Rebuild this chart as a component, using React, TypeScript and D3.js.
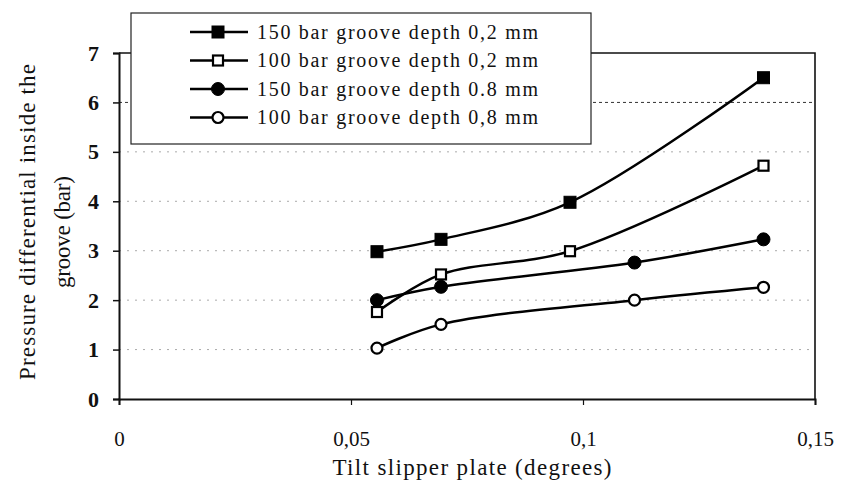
import React, { useRef, useEffect } from 'react';
import * as d3 from 'd3';

// tilt angle of slipper plate (degrees)
const tiltA = [0.0556, 0.0694, 0.0972, 0.1389];
const tiltB = [0.0556, 0.0694, 0.1111, 0.1389];

// pressure differential inside the groove (bar)
const p150d02 = [2.98, 3.23, 3.98, 6.5];
const p100d02 = [1.76, 2.52, 2.99, 4.72];
const p150d08 = [2.0, 2.27, 2.76, 3.23];
const p100d08 = [1.03, 1.51, 2.0, 2.26];

const seriesNames = [
    '150 bar groove depth 0,2 mm',
    '100 bar groove depth 0,2 mm',
    '150 bar groove depth 0.8 mm',
    '100 bar groove depth 0,8 mm',
];

const xTicks = [0, 0.05, 0.1, 0.15];
const xTickLabels = ['0', '0,05', '0,1', '0,15'];
const yTicks = [0, 1, 2, 3, 4, 5, 6, 7];

interface Series {
    name: string;
    xs: number[];
    ys: number[];
    shape: 'square' | 'circle';
    filled: boolean;
}

const series: Series[] = [
    { name: seriesNames[0], xs: tiltA, ys: p150d02, shape: 'square', filled: true },
    { name: seriesNames[1], xs: tiltA, ys: p100d02, shape: 'square', filled: false },
    { name: seriesNames[2], xs: tiltB, ys: p150d08, shape: 'circle', filled: true },
    { name: seriesNames[3], xs: tiltB, ys: p100d08, shape: 'circle', filled: false },
];

const W = 841;
const H = 498;
const FONT = '"Liberation Serif", "Times New Roman", serif';

const App: React.FC = () => {
    const ref = useRef<SVGSVGElement | null>(null);

    useEffect(() => {
        if (!ref.current) return;
        const svg = d3.select(ref.current);
        svg.selectAll('*').remove();

        // plot area
        const left = 119, right = 815, top = 53, bottom = 399;
        const x = d3.scaleLinear().domain([0, 0.15]).range([left, right]);
        const y = d3.scaleLinear().domain([0, 7]).range([bottom, top]);

        svg.append('rect').attr('width', W).attr('height', H).attr('fill', '#fff');

        // gridlines (scanned look: faint dotted, the top one darker)
        svg.append('g')
            .selectAll('line')
            .data(yTicks.filter(t => t > 0 && t < 7))
            .enter()
            .append('line')
            .attr('x1', left)
            .attr('x2', right)
            .attr('y1', d => y(d))
            .attr('y2', d => y(d))
            .attr('stroke', d => (d === 6 ? '#333' : '#aaa'))
            .attr('stroke-width', 1)
            .attr('stroke-dasharray', d => (d === 6 ? '3,3' : '2,6'));

        // frame
        svg.append('path')
            .attr('d', `M${left},${top}H${right}V${bottom}`)
            .attr('fill', 'none')
            .attr('stroke', '#111')
            .attr('stroke-width', 1.6);

        // axes
        const yAxis = svg.append('g')
            .attr('transform', `translate(${left},0)`)
            .call(d3.axisLeft(y).tickValues(yTicks).tickSize(6).tickPadding(14).tickFormat(d3.format('d')));
        yAxis.select('.domain').attr('stroke', '#111').attr('stroke-width', 2);
        yAxis.selectAll('.tick line').attr('stroke', '#111').attr('stroke-width', 1.5);
        yAxis.selectAll('.tick text')
            .style('font-family', FONT)
            .style('font-size', '22px')
            .style('font-weight', 700)
            .attr('fill', '#111');

        const xAxis = svg.append('g')
            .attr('transform', `translate(0,${bottom})`)
            .call(d3.axisBottom(x).tickValues(xTicks).tickSize(6).tickPadding(26)
                .tickFormat((_, i) => xTickLabels[i]));
        xAxis.select('.domain').attr('stroke', '#111').attr('stroke-width', 2);
        xAxis.selectAll('.tick line').attr('stroke', '#111').attr('stroke-width', 1.2);
        xAxis.selectAll('.tick text')
            .style('font-family', FONT)
            .style('font-size', '21px')
            .attr('fill', '#111');

        // axis titles
        svg.append('text')
            .attr('x', 472)
            .attr('y', 475)
            .attr('text-anchor', 'middle')
            .attr('textLength', 279)
            .attr('lengthAdjust', 'spacing')
            .style('font-family', FONT)
            .style('font-size', '23px')
            .attr('fill', '#111')
            .text('Tilt slipper plate (degrees)');

        const yTitle = svg.append('g')
            .attr('transform', 'rotate(-90)');
        yTitle.append('text')
            .attr('x', -222)
            .attr('y', 35)
            .attr('text-anchor', 'middle')
            .attr('textLength', 316)
            .attr('lengthAdjust', 'spacing')
            .style('font-family', FONT)
            .style('font-size', '23px')
            .attr('fill', '#111')
            .text('Pressure differential inside the');
        yTitle.append('text')
            .attr('x', -232)
            .attr('y', 70)
            .attr('text-anchor', 'middle')
            .attr('textLength', 112)
            .attr('lengthAdjust', 'spacing')
            .style('font-family', FONT)
            .style('font-size', '23px')
            .attr('fill', '#111')
            .text('groove (bar)');

        // marker drawing helper
        const drawMarker = (g: d3.Selection<SVGGElement, unknown, null, undefined>,
            s: Series, cx: number, cy: number) => {
            if (s.shape === 'square') {
                const a = s.filled ? 12 : 10;
                g.append('rect')
                    .attr('x', cx - a / 2)
                    .attr('y', cy - a / 2)
                    .attr('width', a)
                    .attr('height', a)
                    .attr('fill', s.filled ? '#000' : '#fff')
                    .attr('stroke', '#000')
                    .attr('stroke-width', s.filled ? 1 : 2.2);
            } else {
                g.append('circle')
                    .attr('cx', cx)
                    .attr('cy', cy)
                    .attr('r', s.filled ? 6.5 : 5.5)
                    .attr('fill', s.filled ? '#000' : '#fff')
                    .attr('stroke', '#000')
                    .attr('stroke-width', s.filled ? 1 : 2.2);
            }
        };

        // smoothed lines + markers
        const line = d3.line<[number, number]>()
            .x(d => x(d[0]))
            .y(d => y(d[1]))
            .curve(d3.curveCatmullRom.alpha(0.5));

        const plot = svg.append('g');
        series.forEach(s => {
            const pts = s.xs.map((v, i) => [v, s.ys[i]] as [number, number]);
            plot.append('path')
                .attr('d', line(pts) as string)
                .attr('fill', 'none')
                .attr('stroke', '#000')
                .attr('stroke-width', 2.5);
        });
        series.forEach(s => {
            const g = plot.append('g');
            s.xs.forEach((v, i) => drawMarker(g, s, x(v), y(s.ys[i])));
        });

        // legend
        const lg = svg.append('g');
        lg.append('rect')
            .attr('x', 131)
            .attr('y', 13)
            .attr('width', 460)
            .attr('height', 131)
            .attr('fill', '#fff')
            .attr('stroke', '#222')
            .attr('stroke-width', 1.2);
        series.forEach((s, i) => {
            const ry = 32 + i * 28.5;
            const row = lg.append('g');
            row.append('line')
                .attr('x1', 190)
                .attr('x2', 248)
                .attr('y1', ry)
                .attr('y2', ry)
                .attr('stroke', '#000')
                .attr('stroke-width', 2.5);
            drawMarker(row, s, 218, ry);
            row.append('text')
                .attr('x', 257)
                .attr('y', ry)
                .attr('dy', '0.33em')
                .attr('textLength', 281)
                .attr('lengthAdjust', 'spacing')
                .style('font-family', FONT)
                .style('font-size', '20px')
                .attr('fill', '#111')
                .text(s.name);
        });
    }, []);

    return (
        <svg
            ref={ref}
            width={W}
            height={H}
            style={{ position: 'absolute', left: 0, top: 0, display: 'block' }}
        />
    );
};

export default App;
